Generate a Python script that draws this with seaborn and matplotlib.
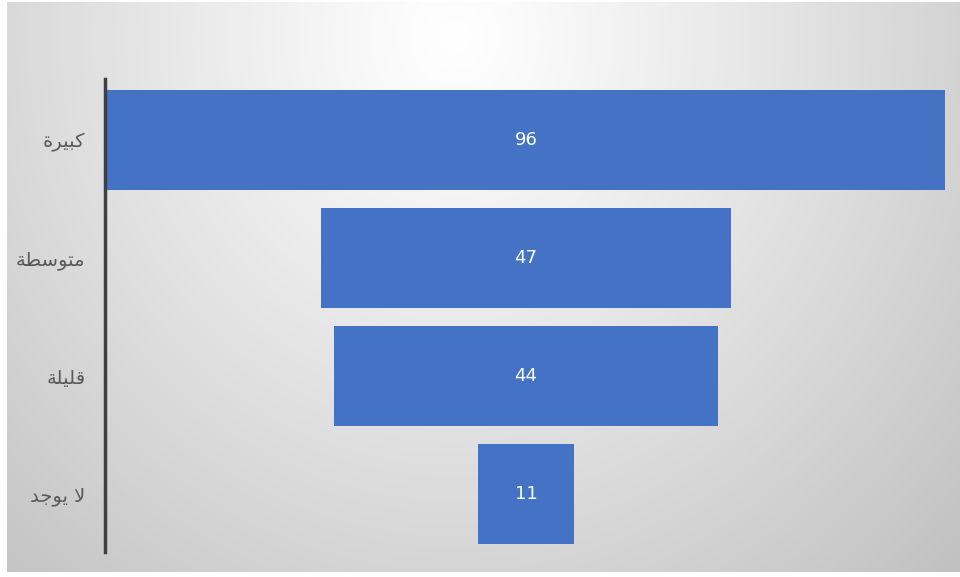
import numpy as np
import pandas as pd
import matplotlib
matplotlib.use("Agg")
import matplotlib.pyplot as plt
import seaborn as sns

# Funnel data
categories = ["كبيرة", "متوسطة", "قليلة", "لا يوجد"]
values = [96, 47, 44, 11]

# Minimal Arabic shaping: (isolated, final, initial, medial) presentation forms
FORMS = {
    "\u0627": ("\uFE8D", "\uFE8E", None, None),
    "\u0628": ("\uFE8F", "\uFE90", "\uFE91", "\uFE92"),
    "\u0629": ("\uFE93", "\uFE94", None, None),
    "\u062A": ("\uFE95", "\uFE96", "\uFE97", "\uFE98"),
    "\u062C": ("\uFE9D", "\uFE9E", "\uFE9F", "\uFEA0"),
    "\u062F": ("\uFEA9", "\uFEAA", None, None),
    "\u0631": ("\uFEAD", "\uFEAE", None, None),
    "\u0633": ("\uFEB1", "\uFEB2", "\uFEB3", "\uFEB4"),
    "\u0637": ("\uFEC1", "\uFEC2", "\uFEC3", "\uFEC4"),
    "\u0642": ("\uFED5", "\uFED6", "\uFED7", "\uFED8"),
    "\u0643": ("\uFED9", "\uFEDA", "\uFEDB", "\uFEDC"),
    "\u0644": ("\uFEDD", "\uFEDE", "\uFEDF", "\uFEE0"),
    "\u0645": ("\uFEE1", "\uFEE2", "\uFEE3", "\uFEE4"),
    "\u0648": ("\uFEED", "\uFEEE", None, None),
    "\u064A": ("\uFEF1", "\uFEF2", "\uFEF3", "\uFEF4"),
}
LAM_ALEF = ("\uFEFB", "\uFEFC")


def shape(text):
    # merge lam + alef into one unit
    units = []
    i = 0
    while i < len(text):
        if text[i] == "\u0644" and i + 1 < len(text) and text[i + 1] == "\u0627":
            units.append("LA")
            i += 2
        else:
            units.append(text[i])
            i += 1

    def joins_left(u):  # can connect to the following letter
        if u == "LA":
            return False
        f = FORMS.get(u)
        return f is not None and f[2] is not None

    def joins_right(u):  # can connect to the preceding letter
        return u == "LA" or u in FORMS

    out = []
    for k, u in enumerate(units):
        prev = units[k - 1] if k > 0 else None
        nxt = units[k + 1] if k + 1 < len(units) else None
        from_prev = prev is not None and joins_left(prev) and joins_right(u)
        to_next = nxt is not None and joins_left(u) and joins_right(nxt)
        if u == "LA":
            out.append(LAM_ALEF[1] if from_prev else LAM_ALEF[0])
        elif u in FORMS:
            iso, fin, ini, med = FORMS[u]
            if from_prev and to_next:
                out.append(med)
            elif from_prev:
                out.append(fin)
            elif to_next:
                out.append(ini)
            else:
                out.append(iso)
        else:
            out.append(u)
    return "".join(reversed(out))


sns.set_theme(style="white")
plt.rcParams["font.family"] = ["DejaVu Sans"]

W, H = 960, 577
fig = plt.figure(figsize=(W / 100, H / 100), dpi=100)
fig.patch.set_facecolor("white")

# Radial grey backdrop, brightest near the top centre
bg = fig.add_axes([7 / W, 5 / H, 953 / W, 570 / H])
gx, gy = np.meshgrid(np.linspace(0, 1, 480), np.linspace(0, 1, 290))
d = np.sqrt(((gx - 0.47) / 0.55) ** 2 + ((gy - 0.06) / 1.0) ** 2)
shade = np.clip(255 - 45 * d ** 1.1, 0, 255) / 255.0
bg.imshow(np.dstack([shade, shade, shade]), aspect="auto",
          extent=(0, 1, 1, 0), interpolation="bilinear")
bg.set_axis_off()

# Funnel axes
ax = fig.add_axes([105 / W, 25 / H, 840 / W, 473 / H])
ax.set_facecolor("none")

df = pd.DataFrame({"category": [shape(c) for c in categories], "value": values})
sns.barplot(data=df, x="value", y="category", orient="h", color="#4472C4",
            saturation=1, width=0.85, linewidth=0, ax=ax)

top = max(values)
for patch, v in zip(ax.patches, values):
    patch.set_x((top - v) / 2)
    ax.text((top - v) / 2 + v / 2, patch.get_y() + patch.get_height() / 2,
            f"{v}", color="white", ha="center", va="center", fontsize=13)

ax.set_xlim(-0.22, top)
ax.set_ylim(len(values) - 1 + 0.49, -0.517)
ax.set_xlabel("")
ax.set_ylabel("")
ax.set_xticks([])
ax.tick_params(axis="y", length=0, pad=14, labelsize=14, labelcolor="#595959")
for s in ["top", "right", "bottom"]:
    ax.spines[s].set_visible(False)
ax.spines["left"].set_color("#404040")
ax.spines["left"].set_linewidth(2.5)

fig.savefig("out.png", dpi=100)
